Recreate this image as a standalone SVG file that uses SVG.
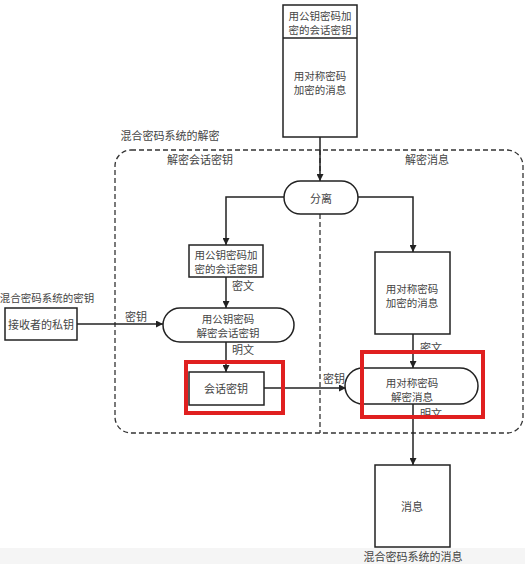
<svg xmlns="http://www.w3.org/2000/svg" width="525" height="564" viewBox="0 0 525 564">
<defs>
<style>
text{font-family:"Noto Sans CJK SC","Liberation Sans",sans-serif;font-size:11px;fill:#444;text-anchor:middle;dominant-baseline:central}
.sm{font-size:10.5px}
.lab{text-anchor:start}
.box{fill:#fff;stroke:#222;stroke-width:1.5}
.ln{fill:none;stroke:#222;stroke-width:1.5}
.dash{fill:none;stroke:#333;stroke-width:1.3;stroke-dasharray:5 3}
.red{fill:none;stroke:#e02020;stroke-width:4}
</style>
<marker id="ar" viewBox="0 0 10 10" refX="10" refY="5" markerWidth="7" markerHeight="7" orient="auto" markerUnits="userSpaceOnUse">
<path d="M0,0 L10,5 L0,10 z" fill="#222"/>
</marker>
</defs>
<rect width="525" height="564" fill="#fff"/>
<rect x="0" y="548" width="525" height="16" fill="#f5f5f5"/>

<g id="container">
<text x="170" y="135">混合密码系统的解密</text>
<rect class="dash" x="115" y="150" width="408" height="283" rx="16"/>
<line class="dash" x1="320" y1="150" x2="320" y2="433"/>
<text x="200" y="159">解密会话密钥</text>
<text x="427" y="159">解密消息</text>
</g>

<g id="connectors">
<line class="ln" x1="320" y1="137" x2="320" y2="181" marker-end="url(#ar)"/>
<polyline class="ln" points="284,197 226,197 226,245" marker-end="url(#ar)"/>
<polyline class="ln" points="358,197 413,197 413,252" marker-end="url(#ar)"/>
<line class="ln" x1="226" y1="277" x2="226" y2="308" marker-end="url(#ar)"/>
<text class="lab" x="232" y="285">密文</text>
<line class="ln" x1="226" y1="342" x2="226" y2="372" marker-end="url(#ar)"/>
<text class="lab" x="232" y="349">明文</text>
<line class="ln" x1="77" y1="324" x2="163" y2="324" marker-end="url(#ar)"/>
<text x="136" y="316">密钥</text>
<line class="ln" x1="264" y1="388" x2="346" y2="388" marker-end="url(#ar)"/>
<text x="334" y="378">密钥</text>
<line class="ln" x1="413" y1="334" x2="413" y2="368" marker-end="url(#ar)"/>
<text class="lab" x="420" y="347">密文</text>
<line class="ln" x1="413" y1="404" x2="413" y2="465" marker-end="url(#ar)"/>
<text class="lab" x="420" y="413">明文</text>
</g>

<g id="encrypted-input">
<rect class="box" x="283" y="5" width="74" height="132"/>
<line class="ln" x1="283" y1="38" x2="357" y2="38"/>
<text class="sm" x="320" y="15">用公钥密码加</text>
<text class="sm" x="320" y="29">密的会话密钥</text>
<text class="sm" x="320" y="75">用对称密码</text>
<text class="sm" x="320" y="89">加密的消息</text>
</g>

<g id="split">
<rect class="box" x="284" y="181" width="74" height="33" rx="16.5"/>
<text x="321" y="198">分离</text>
</g>

<g id="enc-session-key">
<rect class="box" x="189" y="245" width="74" height="32"/>
<text class="sm" x="226" y="254">用公钥密码加</text>
<text class="sm" x="226" y="268">密的会话密钥</text>
</g>

<g id="private-key">
<text class="sm" x="47" y="297">混合密码系统的密钥</text>
<rect class="box" x="5" y="308" width="72" height="32"/>
<text x="41" y="324">接收者的私钥</text>
</g>

<g id="decrypt-session-key">
<rect class="box" x="163" y="308" width="131" height="34" rx="17"/>
<text class="sm" x="228" y="318">用公钥密码</text>
<text class="sm" x="228" y="332">解密会话密钥</text>
</g>

<g id="session-key">
<rect class="box" x="189" y="372" width="75" height="33"/>
<text x="226" y="388">会话密钥</text>
<rect class="red" x="186" y="362" width="97" height="51"/>
</g>

<g id="enc-message">
<rect class="box" x="375" y="252" width="75" height="82"/>
<text class="sm" x="412" y="288">用对称密码</text>
<text class="sm" x="412" y="302">加密的消息</text>
</g>

<g id="decrypt-message">
<rect class="box" x="345" y="368" width="133" height="36" rx="18"/>
<text class="sm" x="412" y="382">用对称密码</text>
<text class="sm" x="412" y="396">解密消息</text>
<rect class="red" x="362" y="352" width="121" height="65"/>
</g>

<g id="message">
<rect class="box" x="375" y="465" width="75" height="82"/>
<text x="412" y="506">消息</text>
<text x="413" y="556">混合密码系统的消息</text>
</g>
</svg>
